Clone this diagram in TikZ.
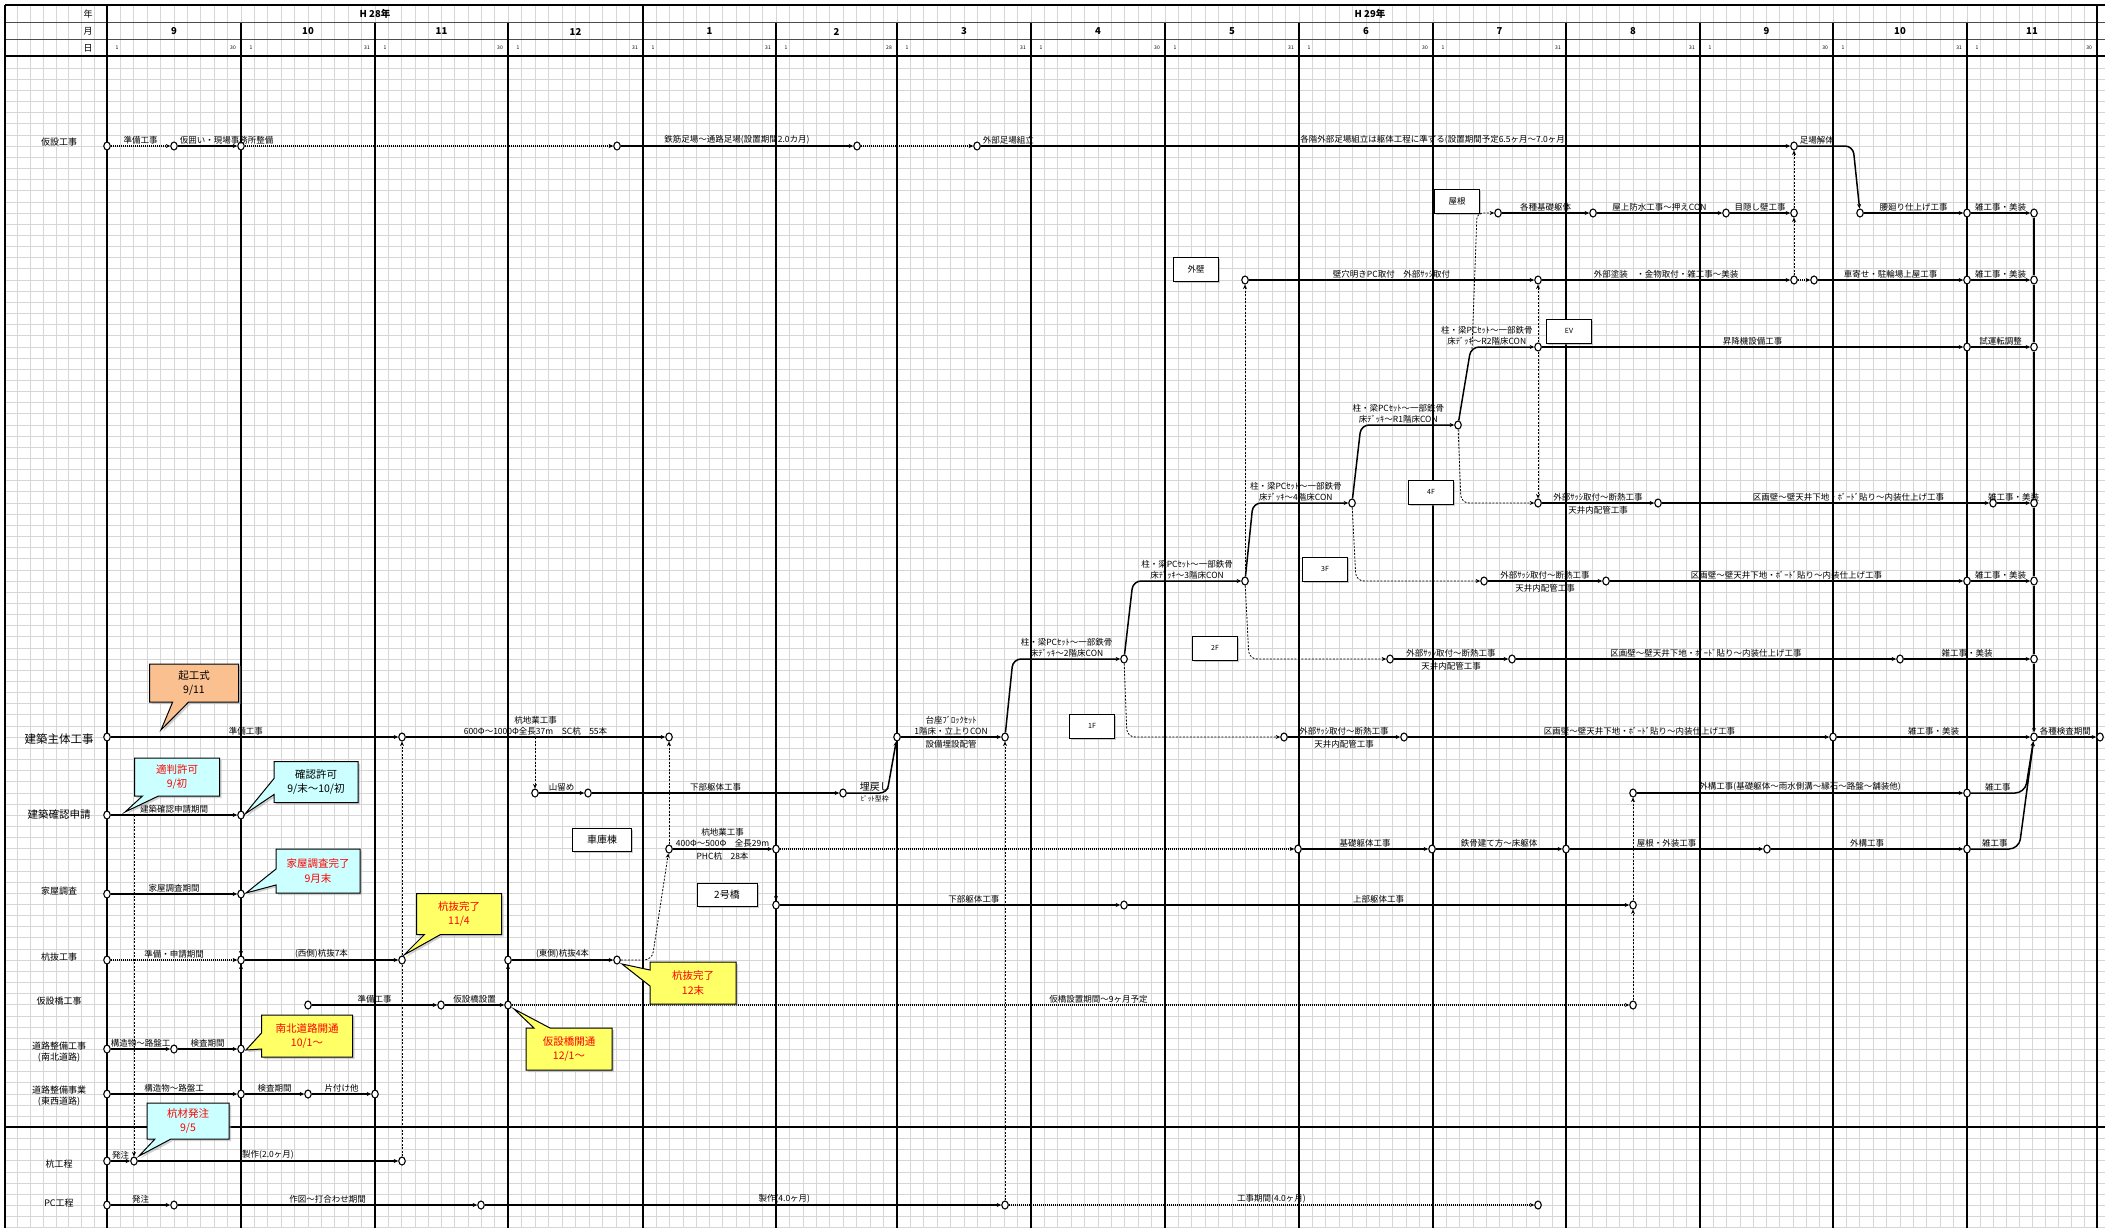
\documentclass[tikz,border=0pt]{standalone}
\usepackage{fontspec}
\setmainfont{Noto Sans CJK JP}
\usetikzlibrary{arrows.meta,shapes.geometric,shapes.callouts,shadows}
\definecolor{gridgray}{HTML}{D6D6D6}
\definecolor{tipcyan}{HTML}{CCFFFF}
\definecolor{tipyellow}{HTML}{FFFF66}
\definecolor{tiporange}{HTML}{FAC090}
\definecolor{tipred}{HTML}{FF0000}
\begin{document}
\begin{tikzpicture}[x=1pt,y=-1pt,>={Stealth[length=4.5pt,width=4pt]},
  ev/.style={ellipse,draw,fill=white,line width=1.1pt,inner sep=0pt,minimum width=6.5pt,minimum height=8pt},
  task/.style={line width=1.5pt,->},
  idle/.style={line width=1.5pt,dash pattern=on 1pt off 1pt,->},
  dep/.style={line width=0.8pt,dash pattern=on 2pt off 1.5pt,->},
  lbl/.style={font=\fontsize{8.5}{11}\selectfont,above,inner sep=1.2pt,align=center},
  lblb/.style={lbl,below,inner sep=3pt},
  rowlbl/.style={font=\fontsize{9}{11}\selectfont,align=center,inner sep=0pt},
  hdr/.style={font=\fontsize{9}{10}\selectfont,inner sep=0pt},
  hdrb/.style={font=\bfseries\fontsize{9.5}{10}\selectfont,inner sep=0pt},
  daynum/.style={font=\fontsize{5}{6}\selectfont,inner sep=0pt},
  flrbox/.style={draw,fill=white,line width=1pt,font=\fontsize{8.5}{9}\selectfont,inner sep=0pt,minimum width=45pt,minimum height=24pt,drop shadow={shadow xshift=1.5pt,shadow yshift=-1.5pt,fill=black!40}},
  callbox/.style={rectangle callout,draw,line width=1pt,align=center,font=\fontsize{10.5}{14.5}\selectfont,inner sep=0pt,callout pointer width=16pt,drop shadow={shadow xshift=2pt,shadow yshift=-2pt,fill=black!35}},
  gl/.style={gridgray,line width=0.8pt},
  ml/.style={black,line width=1.2pt}]
\useasboundingbox (0,0) rectangle (2111,1228);
\fill[white] (0,0) rectangle (2111,1228);
% grid
\foreach \k in {1,...,105}
  \draw[gl] (5,{57+11.15*\k}) -- (2105,{57+11.15*\k});
\foreach \i in {1,...,7}
  \draw[gl] ({5+12.75*\i},5) -- ({5+12.75*\i},1228);
\foreach \a/\b/\n in {107/241/10,241/375/10,375/508/10,508/643/10,643/776/10,776/897/9,897/1031/10,1031/1165/10,1165/1299/10,1299/1433/10,1433/1566/10,1566/1700/10,1700/1833/10,1833/1967/10,1967/2097/10}
  \foreach \i in {1,...,\n}
    \draw[gl] ({\a+(\b-\a)*\i/\n},5) -- ({\a+(\b-\a)*\i/\n},1228);
\draw[line width=1.2pt] (5,5) -- (2105,5);
\draw[black!70,line width=1pt] (5,23) -- (2105,23) (5,40) -- (2105,40);
\draw[line width=2pt] (5,56) -- (2105,56);
\draw[line width=2pt] (5,1127) -- (2105,1127);
\draw[line width=1.5pt] (5,5) -- (5,1228);
\foreach \mx in {241,375,508,776,897,1031,1165,1299,1433,1566,1700,1833,1967}
  \draw[ml] (\mx,23) -- (\mx,1228);
\draw[ml] (2097,5) -- (2097,1228);
\draw[line width=2pt] (107,5) -- (107,1228) (643,5) -- (643,1228);

% header
\node[hdr] (hYear) at (88,14) {年};
\node[hdr] (hMonth) at (88,31.5) {月};
\node[hdr] (hDay) at (88,48) {日};
\node[hdrb] (y28) at (375,14) {H 28年};
\node[hdrb] (y29) at (1370,14) {H 29年};
\foreach \a/\b/\m/\d [count=\c] in {107/241/9/30,241/375/10/31,375/508/11/30,508/643/12/31,643/776/1/31,776/897/2/28,897/1031/3/31,1031/1165/4/30,1165/1299/5/31,1299/1433/6/30,1433/1566/7/31,1566/1700/8/31,1700/1833/9/30,1833/1967/10/31,1967/2097/11/30}{
  \node[hdrb] (mon\c) at ({(\a+\b)/2},31.5) {\m};
  \node[daynum] (dend\c) at (\b-8,48) {\d};
  \ifnum\c=12\else\node[daynum] (dbeg\c) at (\a+10,48) {1};\fi
}

% row titles
\node[rowlbl] (lKasetsu) at (59,142) {仮設工事};
\node[rowlbl,font=\fontsize{11.5}{13}\selectfont] (lShutai) at (59,739) {建築主体工事};
\node[rowlbl,font=\fontsize{10.5}{12}\selectfont] (lKakunin) at (59,814) {建築確認申請};
\node[rowlbl] (lKaoku) at (59,891) {家屋調査};
\node[rowlbl] (lNuki) at (59,957) {杭抜工事};
\node[rowlbl] (lKaribashi) at (59,1001) {仮設橋工事};
\node[rowlbl] (lNanboku) at (59,1052) {道路整備工事\\(南北道路)};
\node[rowlbl] (lTozai) at (59,1096) {道路整備事業\\(東西道路)};
\node[rowlbl] (lKui) at (59,1164) {杭工程};
\node[rowlbl] (lPC) at (59,1203) {PC工程};

% floor boxes
\node[flrbox] (bRoof) at (1457,201) {屋根};
\node[flrbox] (bWall) at (1196,269) {外壁};
\node[flrbox,font=\fontsize{7}{8}\selectfont] (bEV) at (1569,331) {EV};
\node[flrbox,font=\fontsize{7}{8}\selectfont] (b4F) at (1431,492) {4F};
\node[flrbox,font=\fontsize{7}{8}\selectfont] (b3F) at (1325,569) {3F};
\node[flrbox,font=\fontsize{7}{8}\selectfont] (b2F) at (1215,648) {2F};
\node[flrbox,font=\fontsize{7}{8}\selectfont] (b1F) at (1092,726) {1F};
\node[flrbox,font=\fontsize{10}{11}\selectfont,minimum width=59pt,minimum height=23pt] (bShako) at (602,840) {車庫棟};
\node[flrbox,font=\fontsize{10}{11}\selectfont,minimum width=60pt,minimum height=23pt] (bBashi) at (727,895) {2号橋};

% events
\foreach \nm/\px in {k1/107,k2/174,k3/241,k4/617,k5/857,k6/977,k7/1794}
  \node[ev] (\nm) at (\px,146) {};
\foreach \nm/\px in {r1/1498,r2/1593,r3/1726,r4/1794,r5/1860,r6/1967,r7/2034}
  \node[ev] (\nm) at (\px,213) {};
\foreach \nm/\px in {w1/1245,w2/1538,w3/1794,w4/1814,w5/1967,w6/2034}
  \node[ev] (\nm) at (\px,280) {};
\foreach \nm/\px in {e1/1538,e2/1967,e3/2034}
  \node[ev] (\nm) at (\px,347) {};
\node[ev] (s5) at (1458,425) {};
\foreach \nm/\px in {s4/1352,f4a/1538,f4b/1658,f4c/1993,f4d/2034}
  \node[ev] (\nm) at (\px,503) {};
\foreach \nm/\px in {s3/1245,f3a/1484,f3b/1606,f3c/1967,f3d/2034}
  \node[ev] (\nm) at (\px,581) {};
\foreach \nm/\px in {s2/1124,f2a/1390,f2b/1512,f2c/1900,f2d/2034}
  \node[ev] (\nm) at (\px,659) {};
\foreach \nm/\px in {h1/107,h2/402,h3/669,s0/897,s1/1005,f1a/1284,f1b/1404,f1c/1833,f1d/2034,f1e/2100}
  \node[ev] (\nm) at (\px,737) {};
\foreach \nm/\px in {y1/535,y2/588,y3/843,g1/1633,g2/1967}
  \node[ev] (\nm) at (\px,793) {};
\foreach \nm/\px in {a1/107,a2/241}
  \node[ev] (\nm) at (\px,815) {};
\foreach \nm/\px in {c1/669,c2/776,c3/1298,c4/1432,c5/1566,c6/1767,c7/1967}
  \node[ev] (\nm) at (\px,849) {};
\foreach \nm/\px in {o1/107,o2/241}
  \node[ev] (\nm) at (\px,894) {};
\foreach \nm/\px in {b1/776,b2/1124,b3/1633}
  \node[ev] (\nm) at (\px,905) {};
\foreach \nm/\px in {n1/107,n2/241,n3/402,n4/508,n5/617}
  \node[ev] (\nm) at (\px,960) {};
\foreach \nm/\px in {t1/308,t2/441,t3/508,t4/1633}
  \node[ev] (\nm) at (\px,1005) {};
\foreach \nm/\px in {ns1/107,ns2/174,ns3/241}
  \node[ev] (\nm) at (\px,1049) {};
\foreach \nm/\px in {ew1/107,ew2/241,ew3/308,ew4/375}
  \node[ev] (\nm) at (\px,1094) {};
\foreach \nm/\px in {q1/107,q2/134,q3/402}
  \node[ev] (\nm) at (\px,1161) {};
\foreach \nm/\px in {p1/107,p2/174,p3/481,p4/1005,p5/1538}
  \node[ev] (\nm) at (\px,1205) {};
\coordinate (yc) at (535,737);
\coordinate (ac) at (134,815);
\coordinate (rc) at (1472,349);

% 仮設工事
\draw[idle] (k1) -- node[lbl]{準備工事} (k2);
\draw[task] (k2) -- node[lbl,pos=0,anchor=south west]{仮囲い・現場事務所整備} (k3);
\draw[idle] (k3) -- (k4);
\draw[task] (k4) -- node[lbl]{鉄筋足場〜通路足場(設置期間2.0カ月)} (k5);
\draw[idle] (k5) -- (k6);
\draw[task] (k6) -- node[lbl,pos=0,anchor=south west]{外部足場組立} node[lbl,pos=0.56]{各階外部足場組立は躯体工程に準ずる(設置期間予定6.5ヶ月〜7.0ヶ月)} (k7);
\draw[task,rounded corners=8pt] (k7) -- node[lbl,pos=0,anchor=south west]{足場解体} (1853,146) -- (r5);

% 屋根・外壁・EV
\draw[task] (r1) -- node[lbl]{各種基礎躯体} (r2);
\draw[task] (r2) -- node[lbl]{屋上防水工事〜押えCON} (r3);
\draw[task] (r3) -- node[lbl]{目隠し壁工事} (r4);
\draw[task] (r5) -- node[lbl]{腰廻り仕上げ工事} (r6);
\draw[task] (r6) -- node[lbl]{雑工事・美装} (r7);
\draw[task] (w1) -- node[lbl]{壁穴明きPC取付　外部ｻｯｼ取付} (w2);
\draw[task] (w2) -- node[lbl]{外部塗装　・金物取付・雑工事〜美装} (w3);
\draw[idle] (w3) -- (w4);
\draw[task] (w4) -- node[lbl]{車寄せ・駐輪場上屋工事} (w5);
\draw[task] (w5) -- node[lbl]{雑工事・美装} (w6);
\draw[task] (e1) -- node[lbl]{昇降機設備工事} (e2);
\draw[task] (e2) -- node[lbl]{試運転調整} (e3);

% 躯体工程
\draw[task] (h1) -- node[lbl,pos=0.47]{準備工事} (h2);
\draw[task] (h2) -- node[lbl]{杭地業工事\\600Φ〜1000Φ全長37m　SC杭　55本} (h3);
\draw[task] (y1) -- node[lbl]{山留め} (y2);
\draw[task] (y2) -- node[lbl]{下部躯体工事} (y3);
\draw[task,rounded corners=7pt] (y3) -- node[lbl,font=\fontsize{10}{11}\selectfont,pos=0.7]{埋戻し} node[lblb,font=\fontsize{7}{8}\selectfont,pos=0.7,inner sep=2pt]{ﾋﾟｯﾄ型枠} (887,793) -- (s0);
\draw[task] (s0) -- node[lbl]{台座ﾌﾞﾛｯｸｾｯﾄ\\1階床・立上りCON} node[lblb]{設備埋設配管} (s1);
\draw[task,rounded corners=8pt] (s1) -- (1013,659) -- node[lbl]{柱・梁PCｾｯﾄ〜一部鉄骨\\床ﾃﾞｯｷ〜2階床CON} (s2);
\draw[task,rounded corners=8pt] (s2) -- (1133,581) -- node[lbl]{柱・梁PCｾｯﾄ〜一部鉄骨\\床ﾃﾞｯｷ〜3階床CON} (s3);
\draw[task,rounded corners=8pt] (s3) -- (1253,503) -- node[lbl,pos=0.45]{柱・梁PCｾｯﾄ〜一部鉄骨\\床ﾃﾞｯｷ〜4階床CON} (s4);
\draw[task,rounded corners=8pt] (s4) -- (1361,425) -- node[lbl,pos=0.4]{柱・梁PCｾｯﾄ〜一部鉄骨\\床ﾃﾞｯｷ〜R1階床CON} (s5);
\draw[task,rounded corners=8pt] (s5) -- (1471,347) -- node[lbl,pos=0.25]{柱・梁PCｾｯﾄ〜一部鉄骨\\床ﾃﾞｯｷ〜R2階床CON} (e1);

% 各階仕上げ
\draw[task] (f4a) -- node[lbl]{外部ｻｯｼ取付〜断熱工事} node[lblb]{天井内配管工事} (f4b);
\draw[task] (f4b) -- node[lbl,pos=0.57]{区画壁〜壁天井下地・ﾎﾞｰﾄﾞ貼り〜内装仕上げ工事} (f4c);
\draw[task] (f4c) -- node[lbl]{雑工事・美装} (f4d);
\draw[task] (f3a) -- node[lbl]{外部ｻｯｼ取付〜断熱工事} node[lblb]{天井内配管工事} (f3b);
\draw[task] (f3b) -- node[lbl]{区画壁〜壁天井下地・ﾎﾞｰﾄﾞ貼り〜内装仕上げ工事} (f3c);
\draw[task] (f3c) -- node[lbl]{雑工事・美装} (f3d);
\draw[task] (f2a) -- node[lbl]{外部ｻｯｼ取付〜断熱工事} node[lblb]{天井内配管工事} (f2b);
\draw[task] (f2b) -- node[lbl]{区画壁〜壁天井下地・ﾎﾞｰﾄﾞ貼り〜内装仕上げ工事} (f2c);
\draw[task] (f2c) -- node[lbl]{雑工事・美装} (f2d);
\draw[task] (f1a) -- node[lbl]{外部ｻｯｼ取付〜断熱工事} node[lblb]{天井内配管工事} (f1b);
\draw[task] (f1b) -- node[lbl,pos=0.55]{区画壁〜壁天井下地・ﾎﾞｰﾄﾞ貼り〜内装仕上げ工事} (f1c);
\draw[task] (f1c) -- node[lbl]{雑工事・美装} (f1d);
\draw[task] (f1d) -- node[lbl,pos=0,anchor=south west]{各種検査期間} (f1e);
\draw[line width=1.5pt] (r7) -- (w6);
\draw[line width=1.5pt] (w6) -- (e3);
\draw[line width=1.5pt] (e3) -- (f4d);
\draw[line width=1.5pt] (f4d) -- (f3d);
\draw[line width=1.5pt] (f3d) -- (f2d);
\draw[task] (f2d) -- (f1d);

% 車庫棟・2号橋・外構
\draw[task] (c1) -- node[lbl]{杭地業工事\\400Φ〜500Φ　全長29m} node[lblb]{PHC杭　28本} (c2);
\draw[idle] (c2) -- (c3);
\draw[task] (c3) -- node[lbl]{基礎躯体工事} (c4);
\draw[task] (c4) -- node[lbl]{鉄骨建て方〜床躯体} (c5);
\draw[task] (c5) -- node[lbl]{屋根・外装工事} (c6);
\draw[task] (c6) -- node[lbl]{外構工事} (c7);
\draw[task,rounded corners=10pt] (c7) -- node[lbl]{雑工事} (2019,849) -- (f1d);
\draw[task] (b1) -- node[lbl,pos=0.57]{下部躯体工事} (b2);
\draw[task] (b2) -- node[lbl]{上部躯体工事} (b3);
\draw[task] (g1) -- node[lbl]{外構工事(基礎躯体〜雨水側溝〜縁石〜路盤〜舗装他)} (g2);
\draw[task,rounded corners=10pt] (g2) -- node[lbl]{雑工事} (2025,793) -- (f1d);

% 申請・調査・杭抜・仮設橋・道路
\draw[task] (a1) -- node[lbl]{建築確認申請期間} (a2);
\draw[task] (o1) -- node[lbl]{家屋調査期間} (o2);
\draw[idle] (n1) -- node[lbl]{準備・申請期間} (n2);
\draw[task] (n2) -- node[lbl]{(西側)杭抜7本} (n3);
\draw[task] (n4) -- node[lbl]{(東側)杭抜4本} (n5);
\draw[task] (t1) -- node[lbl]{準備工事} (t2);
\draw[task] (t2) -- node[lbl]{仮設橋設置} (t3);
\draw[idle] (t3) -- node[lbl,pos=0.525]{仮橋設置期間〜9ヶ月予定} (t4);
\draw[task] (ns1) -- node[lbl]{構造物〜路盤工} (ns2);
\draw[task] (ns2) -- node[lbl]{検査期間} (ns3);
\draw[task] (ew1) -- node[lbl]{構造物〜路盤工} (ew2);
\draw[task] (ew2) -- node[lbl]{検査期間} (ew3);
\draw[task] (ew3) -- node[lbl]{片付け他} (ew4);
\draw[task] (q1) -- node[lbl]{発注} (q2);
\draw[task] (q2) -- node[lbl]{製作(2.0ヶ月)} (q3);
\draw[task] (p1) -- node[lbl]{発注} (p2);
\draw[task] (p2) -- node[lbl]{作図〜打合わせ期間} (p3);
\draw[task] (p3) -- node[lbl,pos=0.58]{製作(4.0ヶ月)} (p4);
\draw[idle] (p4) -- node[lbl]{工事期間(4.0ヶ月)} (p5);

% dependencies
\draw[dep] (w3) -- (r4);
\draw[dep] (r4) -- (k7);
\draw[dep,rounded corners=6pt] (rc) -- (1477,213) -- (r1);
\draw[dep] (e1) -- (w2);
\draw[dep] (e1) -- (f4a);
\draw[dep] (s3) -- (w1);
\draw[dep,rounded corners=8pt] (s5) -- (1461,503) -- (f4a);
\draw[dep,rounded corners=8pt] (s4) -- (1356,581) -- (f3a);
\draw[dep,rounded corners=8pt] (s3) -- (1249,659) -- (f2a);
\draw[dep,rounded corners=8pt] (s2) -- (1127,737) -- (f1a);
\draw[dep] (yc) -- (y1);
\draw[dep] (ac) -- (q2);
\draw[dep] (o2) -- (n2);
\draw[dep] (ns3) -- (n2);
\draw[dep,-] (q3) -- (n3);
\draw[dep] (n3) -- (h2);
\draw[dep] (t3) -- (n4);
\draw[dep,rounded corners=8pt] (n5) -- (652,960) -- (c1);
\draw[dep] (c1) -- (h3);
\draw[dep] (c2) -- (b1);
\draw[dep] (p4) -- (s1);
\draw[dep] (t4) -- (b3);
\draw[dep] (b3) -- (g1);

% callouts
\node[callbox,fill=tiporange,minimum width=89pt,minimum height=38pt,callout absolute pointer={(161,730)}] (cKiko) at (194,683) {起工式\\9/11};
\node[callbox,fill=tipcyan,text=tipred,minimum width=85pt,minimum height=38pt,callout absolute pointer={(125,812)}] (cTekihan) at (177,777) {適判許可\\9/初};
\node[callbox,fill=tipcyan,minimum width=84pt,minimum height=41pt,callout absolute pointer={(245,814)}] (cKakunin) at (316,782) {確認許可\\9/末〜10/初};
\node[callbox,fill=tipcyan,text=tipred,minimum width=84pt,minimum height=44pt,callout absolute pointer={(246,893)}] (cKaoku) at (318,871) {家屋調査完了\\9月末};
\node[callbox,fill=tipyellow,text=tipred,minimum width=85pt,minimum height=41pt,callout absolute pointer={(404,955)}] (cNuki1) at (459,914) {杭抜完了\\11/4};
\node[callbox,fill=tipyellow,text=tipred,minimum width=86pt,minimum height=42pt,callout absolute pointer={(622,964)}] (cNuki2) at (693,983) {杭抜完了\\12末};
\node[callbox,fill=tipyellow,text=tipred,minimum width=91pt,minimum height=42pt,callout absolute pointer={(246,1050)}] (cNanboku) at (307,1036) {南北道路開通\\10/1〜};
\node[callbox,fill=tipyellow,text=tipred,minimum width=86pt,minimum height=42pt,callout absolute pointer={(514,1009)}] (cKaribashi) at (569,1049) {仮設橋開通\\12/1〜};
\node[callbox,fill=tipcyan,text=tipred,minimum width=82pt,minimum height=36pt,callout absolute pointer={(139,1156)}] (cKuizai) at (188,1121) {杭材発注\\9/5};
\end{tikzpicture}
\end{document}
